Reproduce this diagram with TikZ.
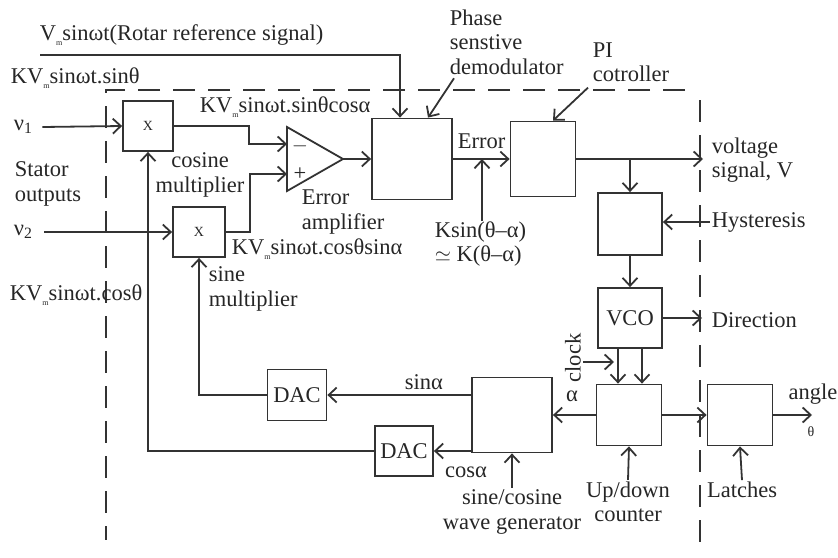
\documentclass[tikz,border=0pt]{standalone}
\usepackage{fontspec}
\setmainfont{Liberation Serif}[Ligatures=TeX]
\usetikzlibrary{arrows.meta,positioning}
\newcommand{\Vm}{V\raisebox{-0.45ex}{\fontsize{8}{8}\selectfont m}}

\begin{document}
\begin{tikzpicture}[x=1pt,y=-1pt,line width=1.8pt,
  font=\rmfamily\fontsize{22.5}{24.5}\selectfont,
  blk/.style={draw=black!80, inner sep=0pt, text=black!85},
  lbl/.style={inner sep=1pt, align=left, text=black!85},
  sig/.style={draw=black!80, -{Straight Barb[length=8pt,width=15pt]}},
  wire/.style={draw=black!80},
  bound/.style={draw=black!80, dash pattern=on 22pt off 13pt, line width=1.7pt}]
  \useasboundingbox (0,0) rectangle (838,557);

  % converter boundary
  \draw[bound] (685,90) -- (106,90) -- (106,540);
  \draw[bound] (700,100) -- (700,547);

  % blocks
  \node[blk, minimum width=50, minimum height=50, font=\rmfamily\fontsize{14}{14}\selectfont] (mulcos) at (148,126) {X};
  \node[blk, minimum width=52, minimum height=50, font=\rmfamily\fontsize{14}{14}\selectfont] (mulsin) at (199,232) {X};
  \node[blk, minimum width=80, minimum height=81] (psd) at (412,159) {};
  \node[blk, minimum width=65, minimum height=75] (pi) at (543,159) {};
  \node[blk, minimum width=64, minimum height=62] (hyst) at (630,224) {};
  \node[blk, minimum width=64, minimum height=60] (vco) at (630,318) {VCO};
  \node[blk, minimum width=65, minimum height=61] (cnt) at (629,415) {};
  \node[blk, minimum width=65, minimum height=61] (lat) at (740,415) {};
  \node[blk, minimum width=80, minimum height=75] (gen) at (512,415) {};
  \node[blk, minimum width=59, minimum height=51] (dacs) at (297,395) {DAC};
  \node[blk, minimum width=58, minimum height=50] (dacc) at (404,451) {DAC};

  % error amplifier
  \coordinate (ampm) at (287,144);
  \coordinate (ampp) at (287,174);
  \coordinate (ampo) at (343,159);
  \draw[wire] (287,127) -- (ampo) -- (287,191) -- cycle;
  \node[lbl] (minus) at (300,146) {$-$};
  \node[lbl] (plus) at (300,174) {+};

  % labels
  \node[lbl, anchor=west] (reflbl) at (38,35) {\Vm sinωt(Rotar reference signal)};
  \node[lbl, anchor=west] (sinlbl) at (9,78) {K\Vm sinωt.sinθ};
  \node[lbl, anchor=west] (v1) at (12,127) {ν\textsubscript{1}};
  \node[lbl, anchor=west] (stator) at (13,184) {Stator\\outputs};
  \node[lbl, anchor=west] (v2) at (12,232) {ν\textsubscript{2}};
  \node[lbl, anchor=west] (coslbl) at (8,295) {K\Vm sinωt.cosθ};
  \node[lbl, anchor=west] (prodc) at (198,107) {K\Vm sinωt.sinθcosα};
  \node[lbl, align=center] (mclbl) at (200,175) {cosine\\multiplier};
  \node[lbl, anchor=west] (amplbl) at (300,212) {Error\\amplifier};
  \node[lbl, anchor=west] (prods) at (230,249) {K\Vm sinωt.cosθsinα};
  \node[lbl, anchor=west] (mslbl) at (207,289) {sine\\multiplier};
  \node[lbl, anchor=west] (psdlbl) at (448,42) {Phase\\senstive\\demodulator};
  \node[lbl, anchor=west] (pilbl) at (591,62) {PI\\cotroller};
  \node[lbl, anchor=west] (errlbl) at (456,141) {Error};
  \node[lbl, anchor=west] (ksin) at (433,244) {Ksin(θ–α)\\$\simeq$ K(θ–α)};
  \node[lbl, anchor=west] (vlbl) at (710,160) {voltage\\signal, V};
  \node[lbl, anchor=west] (hyslbl) at (710,222) {Hysteresis};
  \node[lbl, anchor=west] (dirlbl) at (710,320) {Direction};
  \node[lbl, rotate=90] (clklbl) at (573,358) {clock};
  \node[lbl] (alpha) at (572,396) {α};
  \node[lbl] (sinalbl) at (424,382) {sinα};
  \node[lbl] (cosalbl) at (466,472) {cosα};
  \node[lbl, align=center] (genlbl) at (512,512) {sine/cosine\\wave generator};
  \node[lbl, align=center] (cntlbl) at (628,502) {Up/down\\counter};
  \node[lbl] (latlbl) at (742,490) {Latches};
  \node[lbl] (anglbl) at (813,394) {angle};
  \node[lbl, font=\rmfamily\fontsize{14}{14}\selectfont] (thlbl) at (811,432) {θ};

  % free ends
  \coordinate (refst) at (40,55);
  \coordinate (kin) at (482,221);
  \coordinate (vout) at (703,159);
  \coordinate (dirend) at (702,318);
  \coordinate (clk) at (583,362);
  \coordinate (angend) at (812,415);

  % connectors
  \draw[sig] (refst) -| ([xshift=-12]psd.north);
  \draw[sig] ([xshift=8]v1.east) -- (mulcos.west);
  \draw[sig] ([xshift=10]v2.east) -- (mulsin.west);
  \draw[sig] (mulcos.east) -- ++(75,0) |- (ampm);
  \draw[sig] (mulsin.east) -- ++(24,0) |- (ampp);
  \draw[sig] (ampo) -- (psd.west);
  \draw[sig] (psd.east) -- (pi.west);
  \draw[sig] (kin) -- (kin |- psd.east);
  \draw[sig] (pi.east) -- (vout);
  \draw[sig] (pi.east -| hyst.north) -- (hyst.north);
  \draw[sig] (hyslbl.west) -- (hyslbl.west -| hyst.east);
  \draw[sig] (hyst.south) -- (vco.north);
  \draw[sig] (vco.east) -- (dirend);
  \draw[sig] ([xshift=-12]vco.south) -- ([xshift=-12]vco.south |- cnt.north);
  \draw[sig] ([xshift=12]vco.south) -- ([xshift=12]vco.south |- cnt.north);
  \draw[sig] (clk) -- ([xshift=-16]clk -| vco.south);
  \draw[sig] (cnt.west) -- (gen.east);
  \draw[sig] (gen.west |- dacs.east) -- (dacs.east);
  \draw[sig] (gen.west |- dacc.east) -- (dacc.east);
  \draw[sig] (dacs.west) -| (mulsin.south);
  \draw[sig] (dacc.west) -| (mulcos.south);
  \draw[sig] (genlbl.north) -- (gen.south);
  \draw[sig] (cntlbl.north) -- (cnt.south);
  \draw[sig] (cnt.east) -- (lat.west);
  \draw[sig] (latlbl.north) -- (lat.south);
  \draw[sig] (lat.east) -- (angend);
  \draw[sig] ([xshift=6,yshift=-2]psdlbl.south west) -- ([xshift=16]psd.north);
  \draw[sig] ([xshift=-3,yshift=-4]pilbl.south west) -- ([xshift=10]pi.north);
\end{tikzpicture}
\end{document}
